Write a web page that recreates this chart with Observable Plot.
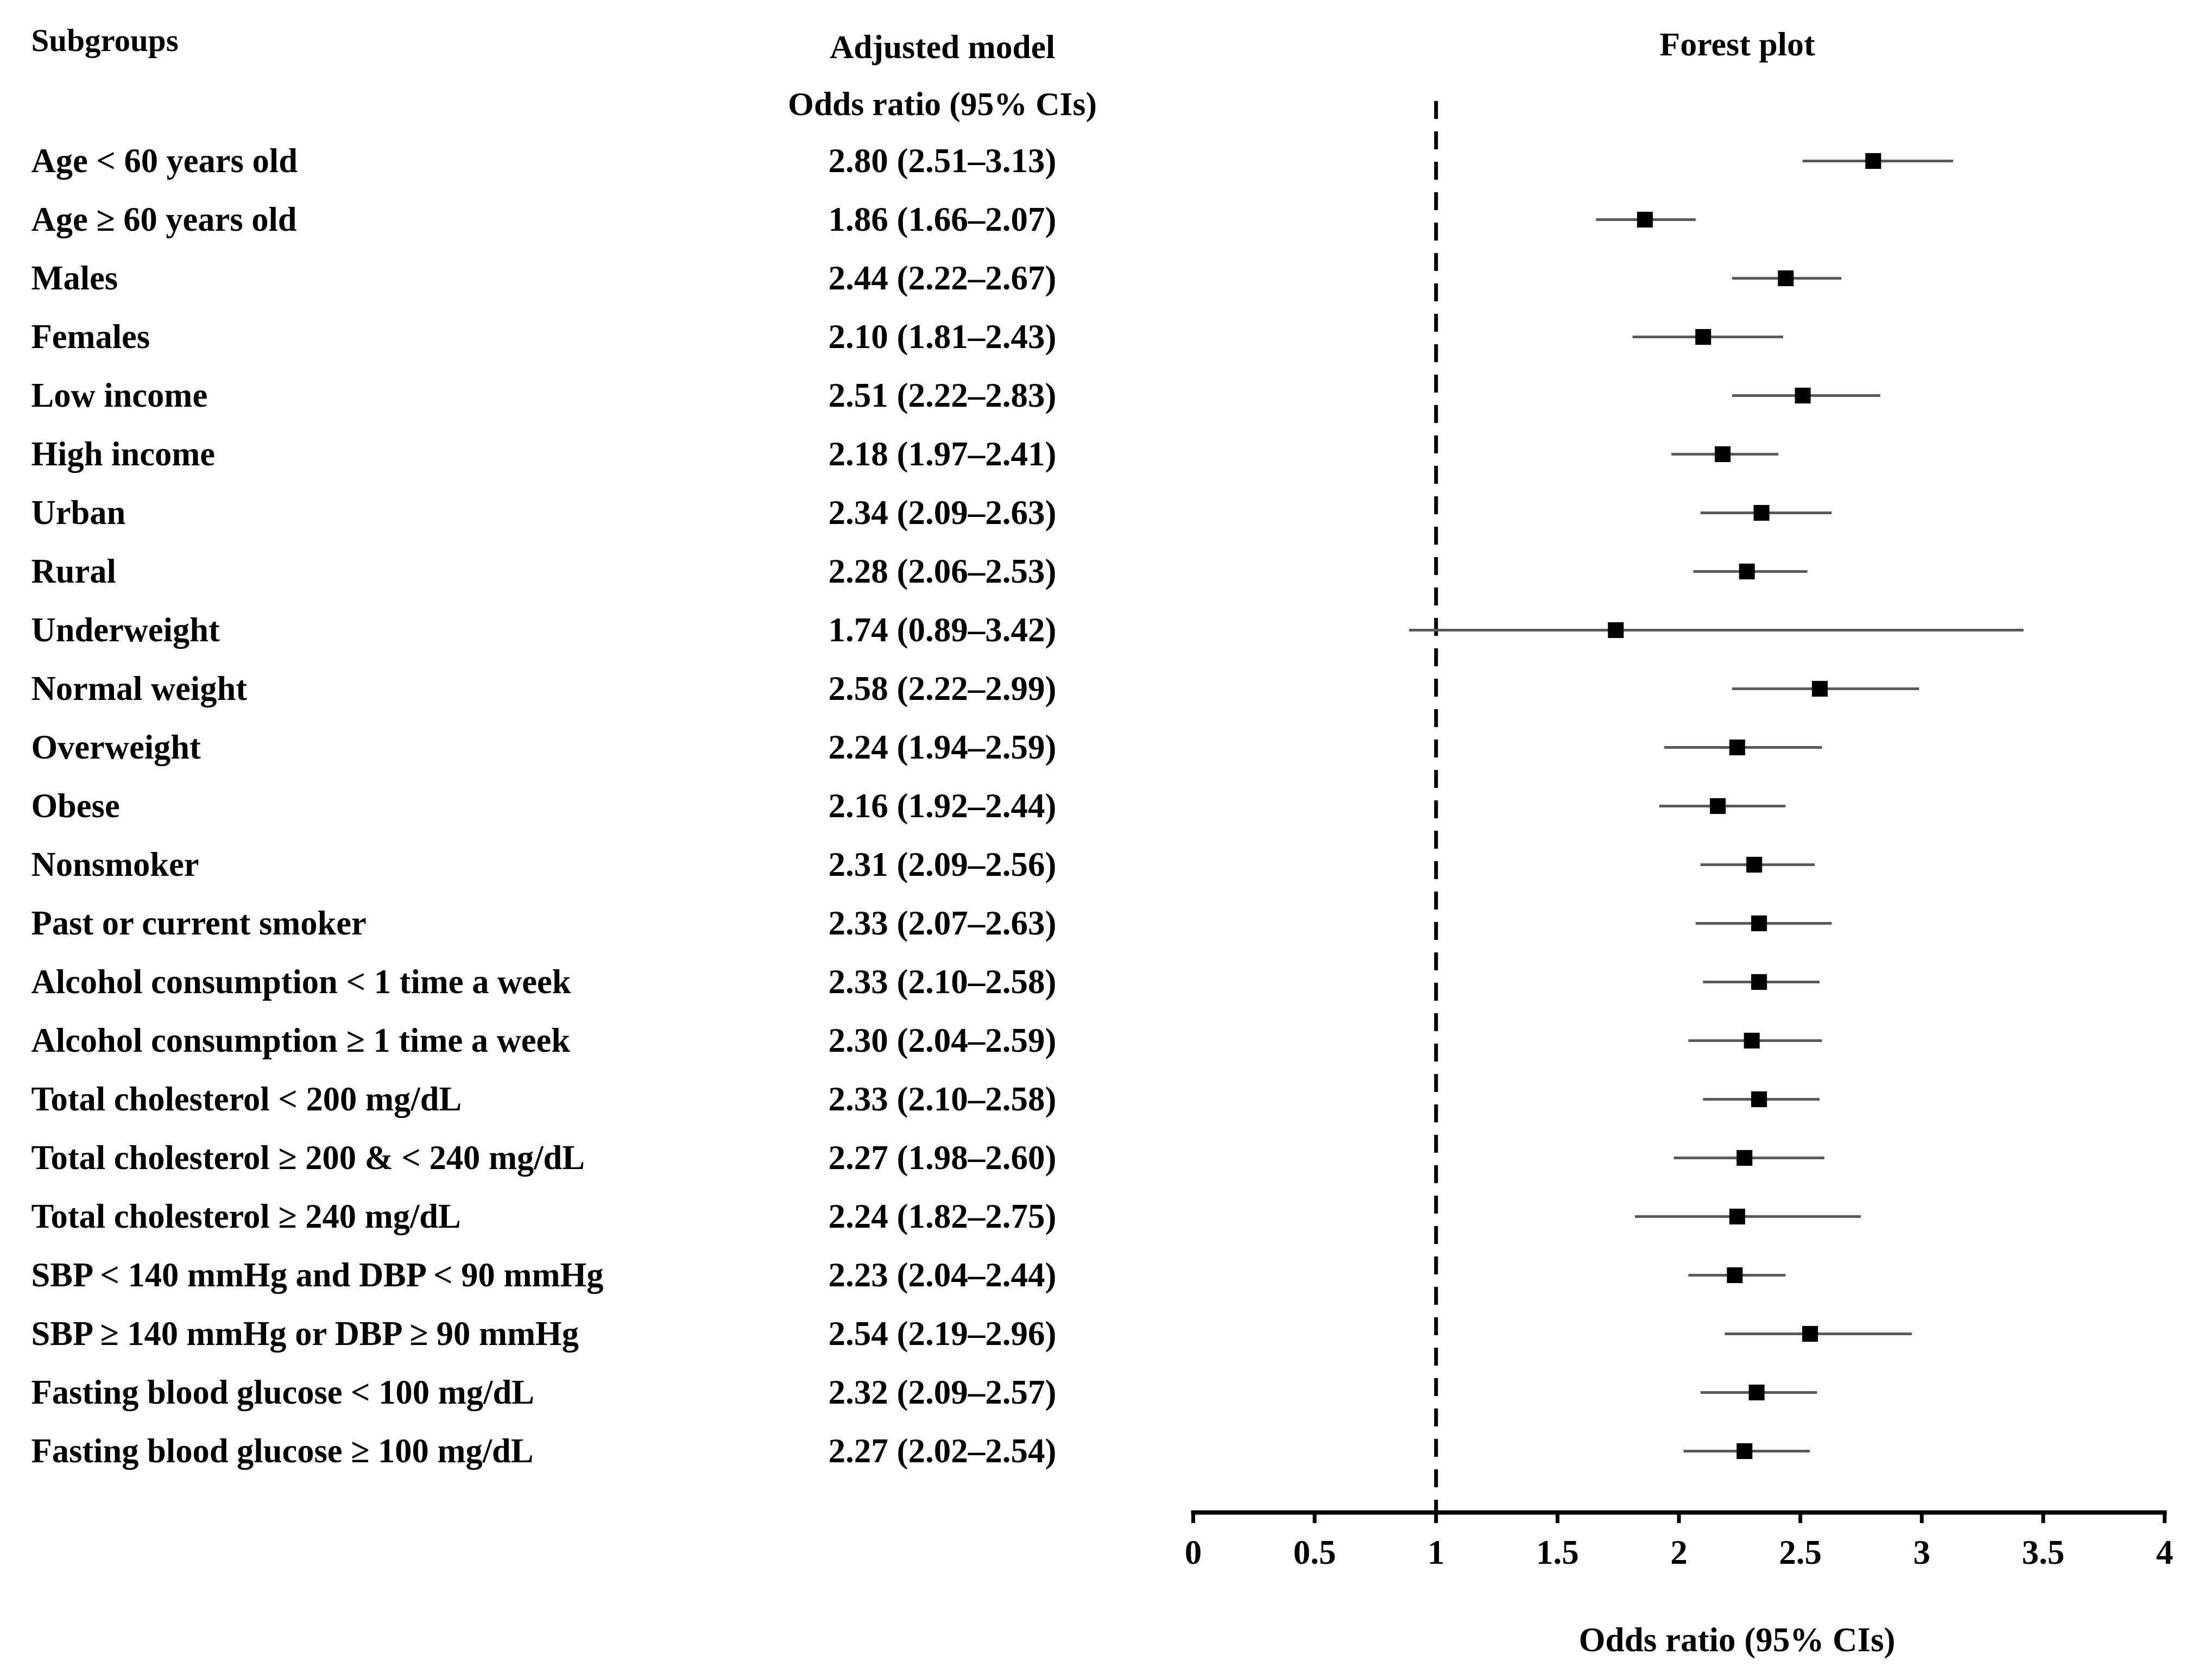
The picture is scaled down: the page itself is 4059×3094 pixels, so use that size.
<!DOCTYPE html>
<html>
<head>
<meta charset="utf-8">
<script src="https://cdn.jsdelivr.net/npm/d3@7"></script>
<script src="https://cdn.jsdelivr.net/npm/@observablehq/plot@0.6"></script>
<style>
  html, body { margin: 0; padding: 0; background: #fff; }
  #chart svg { display: block; }
</style>
</head>
<body>
<div id="chart"></div>
<script>
const subgroups = [
  "Age < 60 years old",
  "Age ≥ 60 years old",
  "Males",
  "Females",
  "Low income",
  "High income",
  "Urban",
  "Rural",
  "Underweight",
  "Normal weight",
  "Overweight",
  "Obese",
  "Nonsmoker",
  "Past or current smoker",
  "Alcohol consumption < 1 time a week",
  "Alcohol consumption ≥ 1 time a week",
  "Total cholesterol < 200 mg/dL",
  "Total cholesterol ≥ 200 & < 240 mg/dL",
  "Total cholesterol ≥ 240 mg/dL",
  "SBP < 140 mmHg and DBP < 90 mmHg",
  "SBP ≥ 140 mmHg or DBP ≥ 90 mmHg",
  "Fasting blood glucose < 100 mg/dL",
  "Fasting blood glucose ≥ 100 mg/dL"
];
const oddsRatio = [2.80, 1.86, 2.44, 2.10, 2.51, 2.18, 2.34, 2.28, 1.74, 2.58, 2.24, 2.16, 2.31, 2.33, 2.33, 2.30, 2.33, 2.27, 2.24, 2.23, 2.54, 2.32, 2.27];
const ciLower = [2.51, 1.66, 2.22, 1.81, 2.22, 1.97, 2.09, 2.06, 0.89, 2.22, 1.94, 1.92, 2.09, 2.07, 2.10, 2.04, 2.10, 1.98, 1.82, 2.04, 2.19, 2.09, 2.02];
const ciUpper = [3.13, 2.07, 2.67, 2.43, 2.83, 2.41, 2.63, 2.53, 3.42, 2.99, 2.59, 2.44, 2.56, 2.63, 2.58, 2.59, 2.58, 2.60, 2.75, 2.44, 2.96, 2.57, 2.54];
const xTicks = [0, 0.5, 1, 1.5, 2, 2.5, 3, 3.5, 4];
const referenceLine = [1];
const headerSubgroups = "Subgroups";
const headerModel = "Adjusted model";
const headerOR = "Odds ratio (95% CIs)";
const headerForest = "Forest plot";
const axisLabel = "Odds ratio (95% CIs)";

const rows = subgroups.map((s, i) => ({
  subgroup: s,
  or: oddsRatio[i],
  lo: ciLower[i],
  hi: ciUpper[i],
  text: `${oddsRatio[i].toFixed(2)} (${ciLower[i].toFixed(2)}–${ciUpper[i].toFixed(2)})`
}));

const FONT = "'Liberation Serif', 'Times New Roman', Times, serif";

const chart = Plot.plot({
  width: 4059,
  height: 3094,
  marginLeft: 2197,
  marginRight: 73,
  marginTop: 186,
  marginBottom: 309,
  style: { fontFamily: FONT, fontWeight: "bold", fontSize: "63px", background: "#fff", color: "#000" },
  x: { domain: [0, 4] },
  y: { type: "point", domain: subgroups, range: [296, 2672], padding: 0, axis: null },
  marks: [
    Plot.frame({ anchor: "bottom", stroke: "#000", strokeWidth: 8 }),
    Plot.axisX({
      ticks: xTicks,
      tickFormat: d => String(d),
      tickSize: 20,
      tickPadding: 30,
      strokeWidth: 7,
      stroke: "#000",
      fontSize: 63,
      fontWeight: "bold",
      label: null
    }),
    Plot.ruleX(referenceLine, { stroke: "#000", strokeWidth: 7, strokeDasharray: "33,23" }),
    Plot.ruleY(rows, { y: "subgroup", x1: "lo", x2: "hi", stroke: "#595959", strokeWidth: 5 }),
    Plot.dot(rows, { x: "or", y: "subgroup", symbol: "square", r: 16.4, fill: "#000", stroke: null }),
    Plot.text(rows, { y: "subgroup", text: "subgroup", frameAnchor: "left", dx: -2140, textAnchor: "start", lineAnchor: "middle", fontSize: 62.5, fontWeight: "bold", fill: "#000" }),
    Plot.text(rows, { y: "subgroup", text: "text", frameAnchor: "left", dx: -462, textAnchor: "middle", lineAnchor: "middle", fontSize: 63, fontWeight: "bold", fill: "#000" }),
    Plot.text([headerSubgroups], { text: d => d, frameAnchor: "top-left", dx: -2140, dy: -111, textAnchor: "start", lineAnchor: "middle", fontSize: 59, fontWeight: "bold" }),
    Plot.text([headerModel], { text: d => d, frameAnchor: "top-left", dx: -462, dy: -99, textAnchor: "middle", lineAnchor: "middle", fontSize: 61.5, fontWeight: "bold" }),
    Plot.text([headerOR], { text: d => d, frameAnchor: "top-left", dx: -462, dy: 6, textAnchor: "middle", lineAnchor: "middle", fontSize: 61.5, fontWeight: "bold" }),
    Plot.text([headerForest], { text: d => d, frameAnchor: "top-left", dx: 1002, dy: -104, textAnchor: "middle", lineAnchor: "middle", fontSize: 62, fontWeight: "bold" }),
    Plot.text([axisLabel], { text: d => d, frameAnchor: "bottom", dx: 107, dy: 235, textAnchor: "middle", lineAnchor: "middle", fontSize: 63, fontWeight: "bold" })
  ]
});

document.getElementById("chart").appendChild(chart);
</script>
</body>
</html>
